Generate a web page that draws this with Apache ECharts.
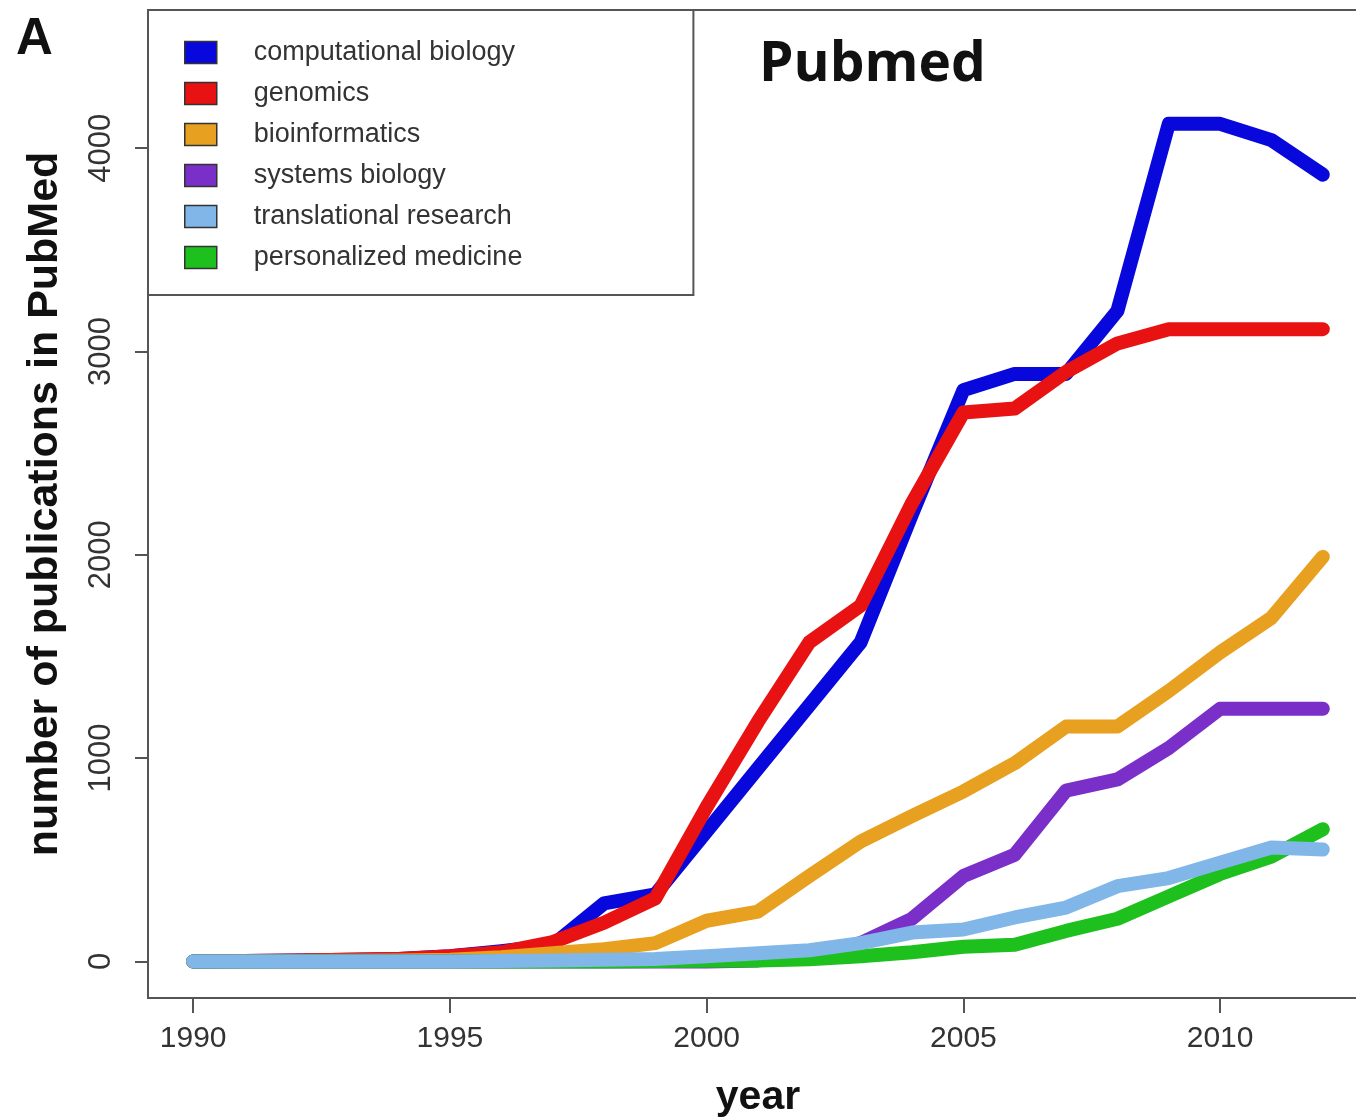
<!DOCTYPE html>
<html>
<head>
<meta charset="utf-8">
<script src="https://cdn.jsdelivr.net/npm/echarts@6/dist/echarts.min.js"></script>
<style>html,body{margin:0;padding:0;background:#fff;}#c{width:1356px;height:1119px;}</style>
</head>
<body>
<div id="c"></div>
<script>
const years = [1990,1991,1992,1993,1994,1995,1996,1997,1998,1999,2000,2001,2002,2003,2004,2005,2006,2007,2008,2009,2010,2011,2012];
const compBio   = [0,2,5,8,12,25,50,80,285,330,640,950,1260,1570,2200,2810,2890,2890,3200,4120,4120,4040,3870];
const genomics  = [0,2,5,8,12,25,45,95,190,310,760,1180,1570,1750,2255,2700,2720,2900,3040,3110,3110,3110,3110];
const bioinfo   = [0,1,2,3,5,8,20,40,60,90,200,245,420,590,715,836,975,1155,1155,1330,1520,1690,1990];
const sysBio    = [0,0,0,0,0,0,0,0,0,0,0,5,25,90,210,420,525,840,895,1050,1243,1243,1243];
const transRes  = [0,0,0,0,0,0,2,5,8,12,25,40,55,90,142,157,216,265,370,410,486,560,550];
const persMed   = [0,0,0,0,0,0,0,0,0,2,3,5,10,25,45,72,82,150,210,320,430,516,650];
const xTicks = [1990,1995,2000,2005,2010];
const yTicks = [0,1000,2000,3000,4000];
const legendNames = ['computational biology','genomics','bioinformatics','systems biology','translational research','personalized medicine'];

const pair = arr => years.map((y,i)=>[y,arr[i]]);
const mk = (name, arr, color) => ({
  name, type:'line', data: pair(arr), symbol:'none', color,
  lineStyle:{width:14, color, cap:'round', join:'round'},
  itemStyle:{color}
});

const chart = echarts.init(document.getElementById('c'));
chart.setOption({
  animation:false,
  backgroundColor:'#fff',
  title:[
    {text:'A', left:11, top:9, textStyle:{fontSize:51, fontWeight:'bold', color:'#111', fontFamily:'Liberation Sans, Arial'}},
    {text:'Pubmed', left:754, top:33, textStyle:{fontSize:55, fontWeight:'bold', color:'#111', fontFamily:'Open Sans'}}
  ],
  grid:{left:148, top:10, width:1220, height:988, outerBoundsMode:'none', containLabel:false,
        show:true, borderColor:'#555', borderWidth:2, backgroundColor:'transparent'},
  legend:{
    data: legendNames, orient:'vertical', left:148, top:10,
    icon:'rect', itemWidth:32, itemHeight:22, itemGap:14,
    padding:[29,171,24,36],
    backgroundColor:'#fff', borderColor:'#555', borderWidth:2,
    itemStyle:{borderColor:'#333', borderWidth:1.5},
    textStyle:{fontSize:27, color:'#333', fontFamily:'Liberation Sans, Arial', padding:[0,0,0,32]}
  },
  xAxis:{
    type:'value', min:1989.12, max:2012.88,
    name:'year', nameLocation:'middle', nameGap:79,
    nameTextStyle:{fontSize:41, fontWeight:'bold', color:'#111', fontFamily:'Liberation Sans, Arial'},
    axisLine:{show:false, onZero:false}, splitLine:{show:false},
    axisTick:{show:true, customValues:xTicks, length:15, lineStyle:{color:'#555', width:2}},
    axisLabel:{customValues:xTicks, fontSize:30, color:'#333', margin:26, fontFamily:'Liberation Sans, Arial', formatter: v=>String(v)}
  },
  yAxis:{
    type:'value', min:-180, max:4680,
    name:'number of publications in PubMed', nameLocation:'middle', nameGap:81,
    nameTextStyle:{fontSize:43, fontWeight:'bold', color:'#111', fontFamily:'Liberation Sans, Arial'},
    axisLine:{show:false, onZero:false}, splitLine:{show:false},
    axisTick:{show:true, customValues:yTicks, length:13, lineStyle:{color:'#555', width:2}},
    axisLabel:{customValues:yTicks, rotate:90, fontSize:31, color:'#333', margin:31, fontFamily:'Liberation Sans, Arial', formatter: v=>String(v)}
  },
  series:[
    mk('computational biology', compBio, '#0808dc'),
    mk('genomics', genomics, '#e81212'),
    mk('bioinformatics', bioinfo, '#e8a020'),
    mk('systems biology', sysBio, '#7a2fc8'),
    mk('personalized medicine', persMed, '#1ec01e'),
    mk('translational research', transRes, '#80b6e8')
  ]
});
</script>
</body>
</html>
